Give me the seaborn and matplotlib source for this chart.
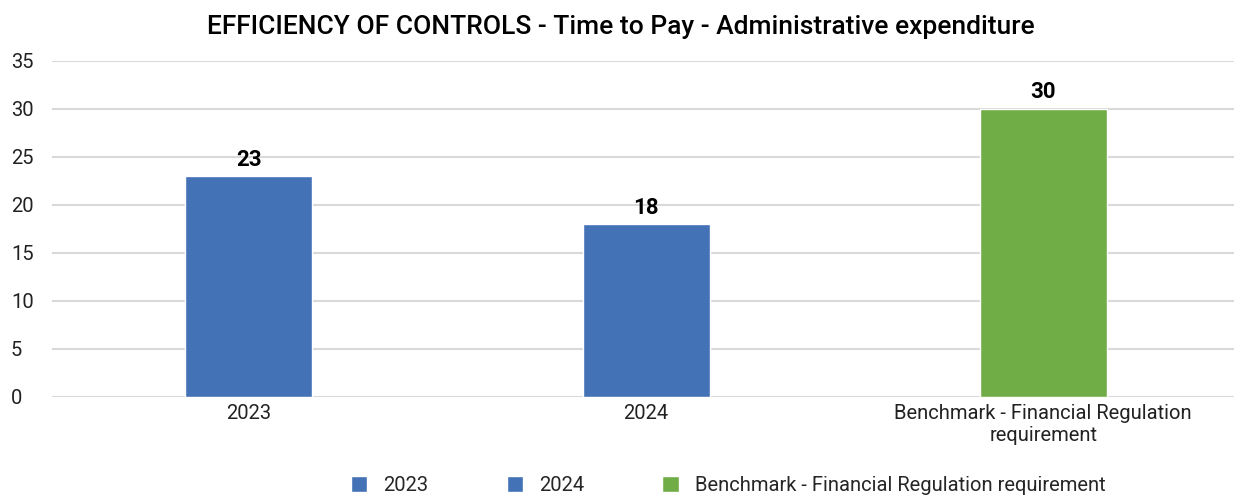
import matplotlib
matplotlib.use("Agg")
import matplotlib.pyplot as plt
import seaborn as sns
from matplotlib.patches import Patch

# Data
categories = ["2023", "2024", "Benchmark - Financial Regulation\nrequirement"]
legend_labels = ["2023", "2024", "Benchmark - Financial Regulation requirement"]
days = [23, 18, 30]
colors = ["#4472B6", "#4472B6", "#70AD47"]

sns.set_theme(style="white")
plt.rcParams["font.family"] = ["Roboto", "DejaVu Sans"]

fig = plt.figure(figsize=(12.36, 4.95), dpi=100)
ax = fig.add_axes([0.042, 0.198, 0.956, 0.679])

sns.barplot(x=categories, y=days, hue=categories, palette=colors,
            width=0.32, legend=False, ax=ax, saturation=1)

for c in ax.containers:
    ax.bar_label(c, fmt="%d", padding=4, fontsize=16, fontweight="bold", color="#000000")

ax.set_xlim(-0.496, 2.479)
ax.set_ylim(0, 35)
ax.set_yticks(range(0, 36, 5))
ax.yaxis.grid(True, color="#d9d9d9", linewidth=1.5)
ax.set_axisbelow(True)
for s in ax.spines.values():
    s.set_visible(False)
ax.tick_params(axis="both", length=0, labelsize=14.5, colors="#222222")
ax.tick_params(axis="y", pad=29.5)
ax.tick_params(axis="x", pad=5)
for lab in ax.get_yticklabels():
    lab.set_horizontalalignment("left")
ax.set_xlabel("")
ax.set_ylabel("")

fig.text(0.502, 0.945, "EFFICIENCY OF CONTROLS - Time to Pay - Administrative expenditure",
         ha="center", va="center", fontsize=19, fontweight="medium", color="#000000")

handles = [Patch(facecolor=col, label=lab) for col, lab in zip(colors, legend_labels)]
fig.legend(handles=handles, loc="center", bbox_to_anchor=(0.589, 0.019), ncol=3,
           frameon=False, fontsize=14.5, handlelength=0.8, handleheight=0.8,
           columnspacing=3.9, handletextpad=0.8, borderpad=0)

fig.savefig("out.png", dpi=100)
